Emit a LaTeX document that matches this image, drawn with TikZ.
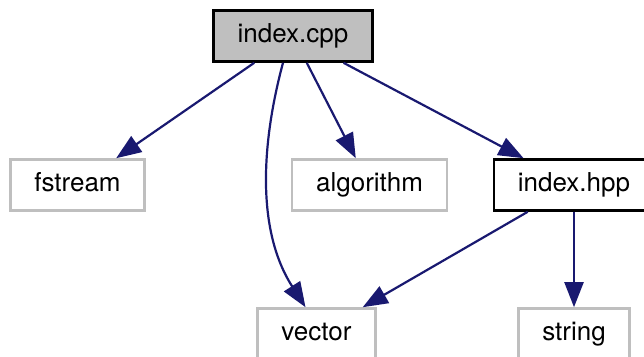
\documentclass[tikz,border=0pt]{standalone}
\usepackage{fontspec}
\setmainfont{TeX Gyre Heros}
\usetikzlibrary{arrows.meta}
\definecolor{blue1}{RGB}{25, 25, 112}
\definecolor{gray1}{RGB}{191, 191, 191}

\begin{document}
\begin{tikzpicture}[x=1pt, y=-1pt, line width=2.6pt,
  file/.style={rectangle, draw=gray1, fill=white, inner xsep=24pt, minimum height=51pt,
    text height=19pt, text depth=6pt, font=\fontsize{26}{30}\selectfont},
  dep/.style={draw=blue1, line width=2.2pt, -{Triangle[length=25pt, width=19pt]}}]
\useasboundingbox (0,0) rectangle (644,356);
\clip (0,0) rectangle (644,356);

  \node[file, draw=black, fill=gray1] (cpp) at (293,36) {index.cpp};

  \node[file] (fstream) at (77.5,185) {fstream};
  \node[file] (algo) at (369.5,185) {algorithm};
  \node[file, draw=black] (hpp) at (574,185) {index.hpp};

  \node[file] (vec) at (316.5,334) {vector};
  \node[file] (str) at (574,334) {string};

  \foreach \from/\to in {cpp/fstream, cpp/algo, cpp/hpp, hpp/vec, hpp/str}
   \draw[dep] (\from) -- (\to);
  % cpp -> vector bends round to the left
  \draw[dep] ([xshift=-10pt]cpp.south) .. controls +(-21,78) and +(-50,-78) .. ([xshift=-11pt]vec.north);
\end{tikzpicture}
\end{document}
